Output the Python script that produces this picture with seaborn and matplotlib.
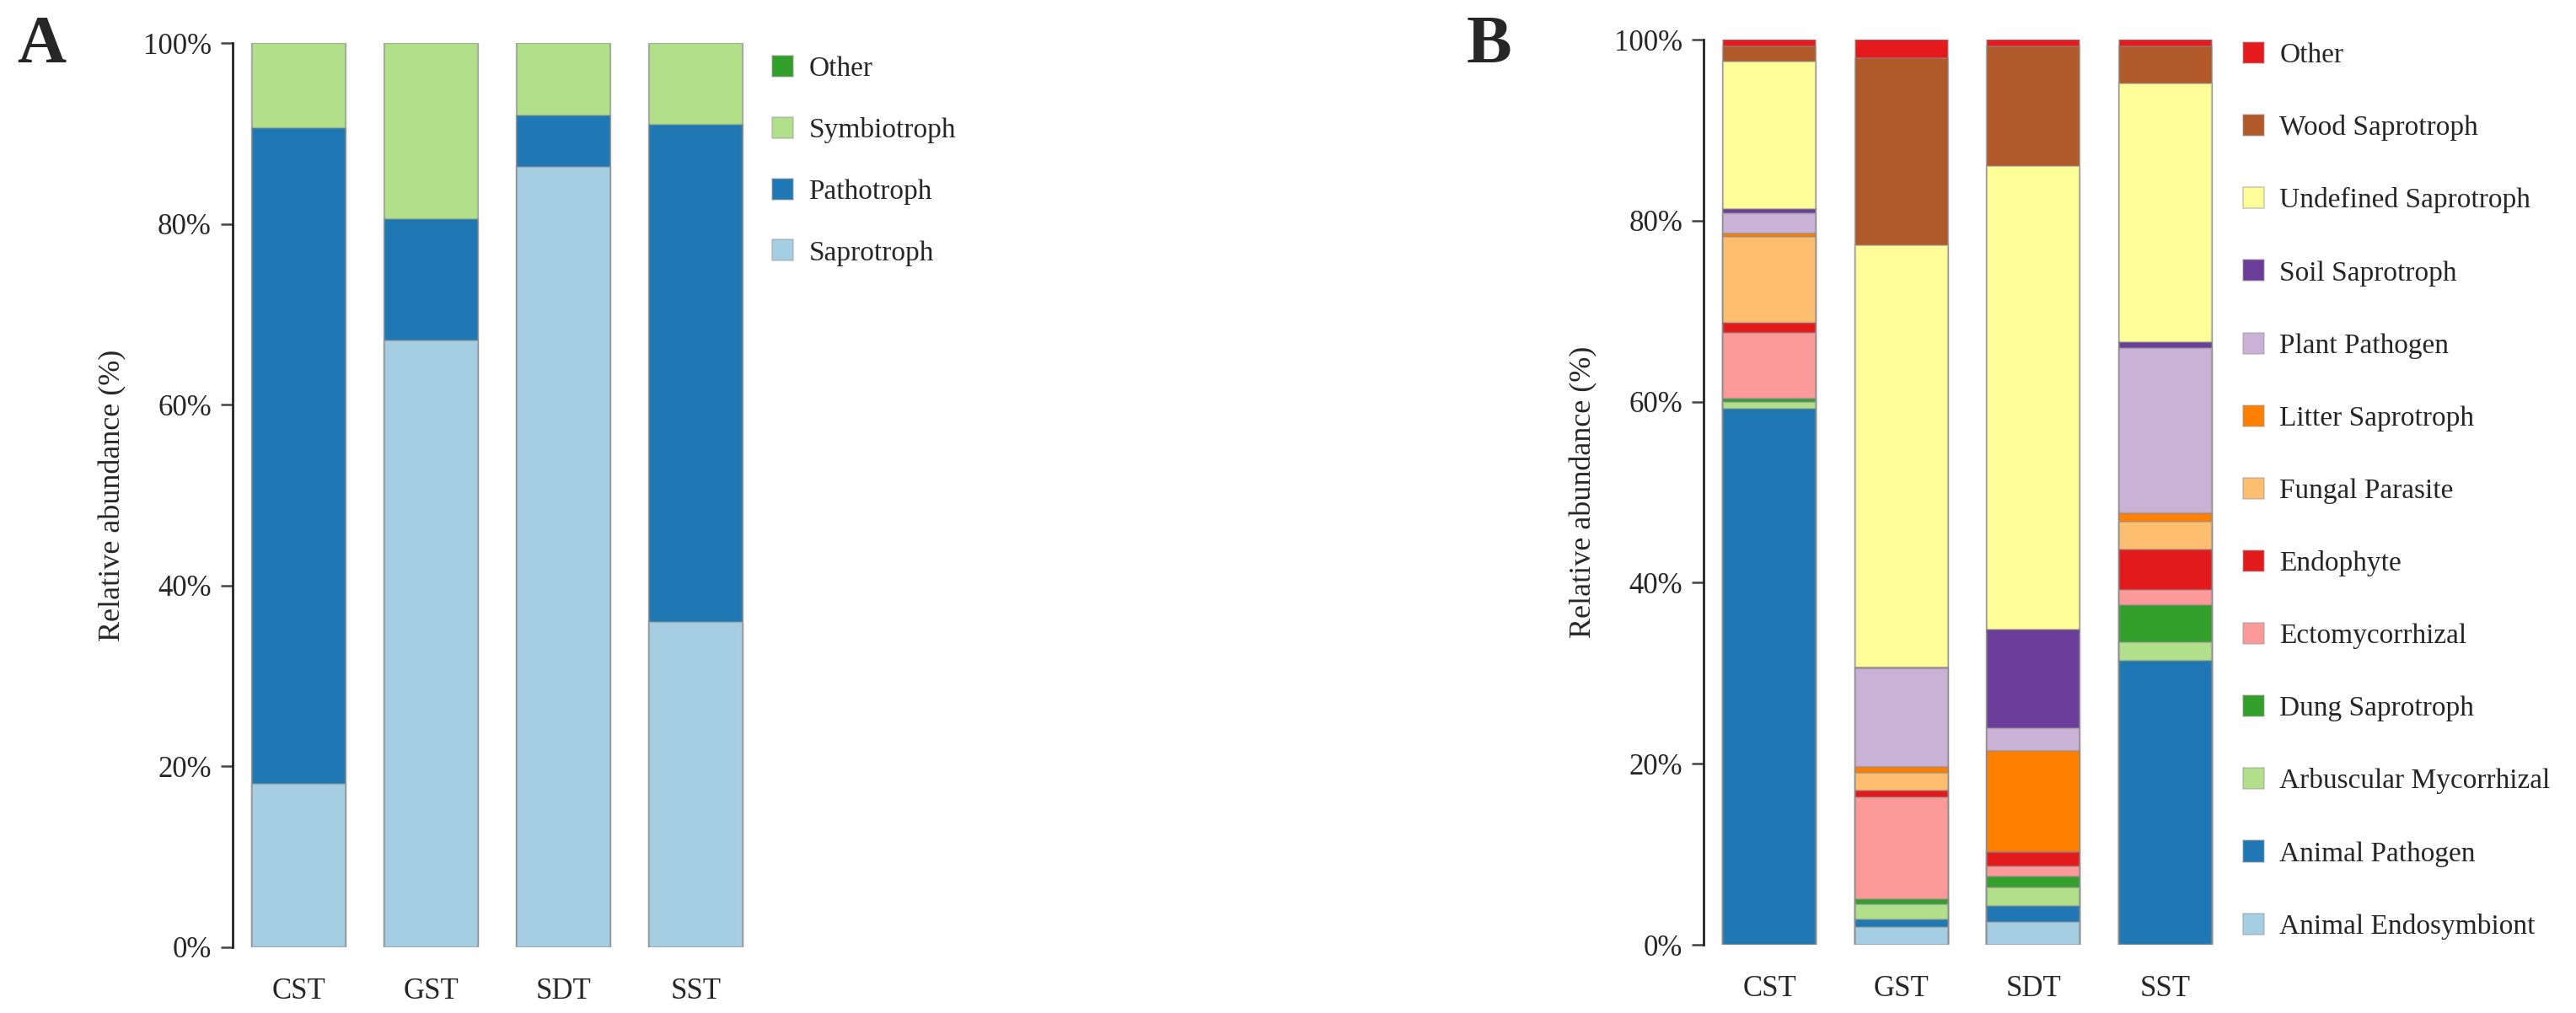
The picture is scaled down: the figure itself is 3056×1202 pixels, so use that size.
import numpy as np
import matplotlib
matplotlib.use("Agg")
import matplotlib.pyplot as plt
from matplotlib.patches import Patch
import seaborn as sns

# samples shared by both panels
samples = ["CST", "GST", "SDT", "SST"]

# Panel A: trophic modes (bottom -> top)
guilds_a = ["Saprotroph", "Pathotroph", "Symbiotroph", "Other"]
saprotroph = [18.1, 67.1, 86.3, 36.0]
pathotroph = [72.5, 13.4, 5.7, 55.0]
symbiotroph = [9.4, 19.5, 8.0, 9.0]
other_a = [0.0, 0.0, 0.0, 0.0]
colors_a = ["#A6CEE3", "#1F78B4", "#B2DF8A", "#33A02C"]

# Panel B: guilds (bottom -> top)
guilds_b = ["Animal Endosymbiont", "Animal Pathogen", "Arbuscular Mycorrhizal",
            "Dung Saprotroph", "Ectomycorrhizal", "Endophyte", "Fungal Parasite",
            "Litter Saprotroph", "Plant Pathogen", "Soil Saprotroph",
            "Undefined Saprotroph", "Wood Saprotroph", "Other"]
animal_endosymbiont = [0.0, 2.0, 2.5, 0.0]
animal_pathogen = [59.2, 0.75, 1.8, 31.35]
arbuscular = [0.8, 1.72, 2.0, 2.1]
dung_sapro = [0.35, 0.55, 1.2, 4.1]
ectomyc = [7.25, 11.32, 1.2, 1.65]
endophyte = [1.15, 0.72, 1.55, 4.5]
fungal_parasite = [9.5, 1.89, 0.0, 3.0]
litter_sapro = [0.35, 0.73, 11.2, 1.0]
plant_pathogen = [2.2, 10.87, 2.5, 18.2]
soil_sapro = [0.45, 0.1, 10.85, 0.7]
undefined_sapro = [16.3, 46.6, 51.2, 28.6]
wood_sapro = [1.7, 20.7, 13.3, 4.1]
other_b = [0.75, 2.05, 0.7, 0.7]
colors_b = ["#A6CEE3", "#1F78B4", "#B2DF8A", "#33A02C", "#FB9A99", "#E31A1C",
            "#FDBF6F", "#FF7F00", "#CAB2D6", "#6A3D9A", "#FFFF99", "#B15928",
            "#E41A1C"]

sns.set_theme(style="white")
plt.rcParams['font.family'] = ['Liberation Serif', 'DejaVu Serif']
plt.rcParams['axes.linewidth'] = 1.0

W, H = 3056, 1202
fig = plt.figure(figsize=(W / 200, H / 200), dpi=200)

EDGE = (0.55, 0.55, 0.55, 0.5)


def stacked(ax, layers, colors, names):
    cum = np.cumsum(np.array(layers), axis=0)
    # draw tallest cumulative first so smaller ones sit on top
    for i in range(len(layers) - 1, -1, -1):
        sns.barplot(x=samples, y=cum[i], color=colors[i], saturation=1,
                    width=0.705, errorbar=None, edgecolor=EDGE, linewidth=0.8,
                    ax=ax)
    ax.set_xlim(-0.5, 3.5)
    ax.set_ylim(0, 100)
    ax.set_yticks([0, 20, 40, 60, 80, 100])
    ax.set_yticklabels([f"{v}%" for v in range(0, 101, 20)])
    ax.set_ylabel("Relative abundance (%)", fontsize=13, labelpad=7)
    ax.set_xlabel("")
    for s in ["top", "right", "bottom"]:
        ax.spines[s].set_visible(False)
    ax.spines["left"].set_color("#222222")
    ax.tick_params(axis="y", direction="out", length=5, width=0.9,
                   color="#444444", labelsize=12.5, pad=4, left=True)
    ax.tick_params(axis="x", length=0, labelsize=12.5, pad=13)
    handles = [Patch(facecolor=c, edgecolor=(0.6, 0.6, 0.6, 0.5), lw=0.6)
               for c in colors]
    return handles[::-1], names[::-1]


axA = fig.add_axes([276 / W, (H - 1124) / H, 628 / W, (1124 - 51) / H])
hA, nA = stacked(axA, [saprotroph, pathotroph, symbiotroph, other_a],
                 colors_a, guilds_a)
fig.legend(hA, nA, loc="upper left", bbox_to_anchor=(916 / W, 1 - 66 / H),
           bbox_transform=fig.transFigure, frameon=False, fontsize=12,
           handlelength=0.75, handleheight=0.78, handletextpad=0.55,
           labelspacing=1.25, borderpad=0, borderaxespad=0)

axB = fig.add_axes([2021 / W, (H - 1121) / H, 626 / W, (1121 - 47) / H])
hB, nB = stacked(axB, [animal_endosymbiont, animal_pathogen, arbuscular,
                       dung_sapro, ectomyc, endophyte, fungal_parasite,
                       litter_sapro, plant_pathogen, soil_sapro,
                       undefined_sapro, wood_sapro, other_b],
                 colors_b, guilds_b)
fig.legend(hB, nB, loc="upper left", bbox_to_anchor=(2661 / W, 1 - 50 / H),
           bbox_transform=fig.transFigure, frameon=False, fontsize=12,
           handlelength=0.75, handleheight=0.78, handletextpad=0.55,
           labelspacing=1.65, borderpad=0, borderaxespad=0)

fig.text(20 / W, 1 - 18 / H, "A", fontsize=29, fontweight="bold",
         ha="left", va="top")
fig.text(1740 / W, 1 - 18 / H, "B", fontsize=29, fontweight="bold",
         ha="left", va="top")

fig.savefig("out.png", dpi=200)
plt.close(fig)
